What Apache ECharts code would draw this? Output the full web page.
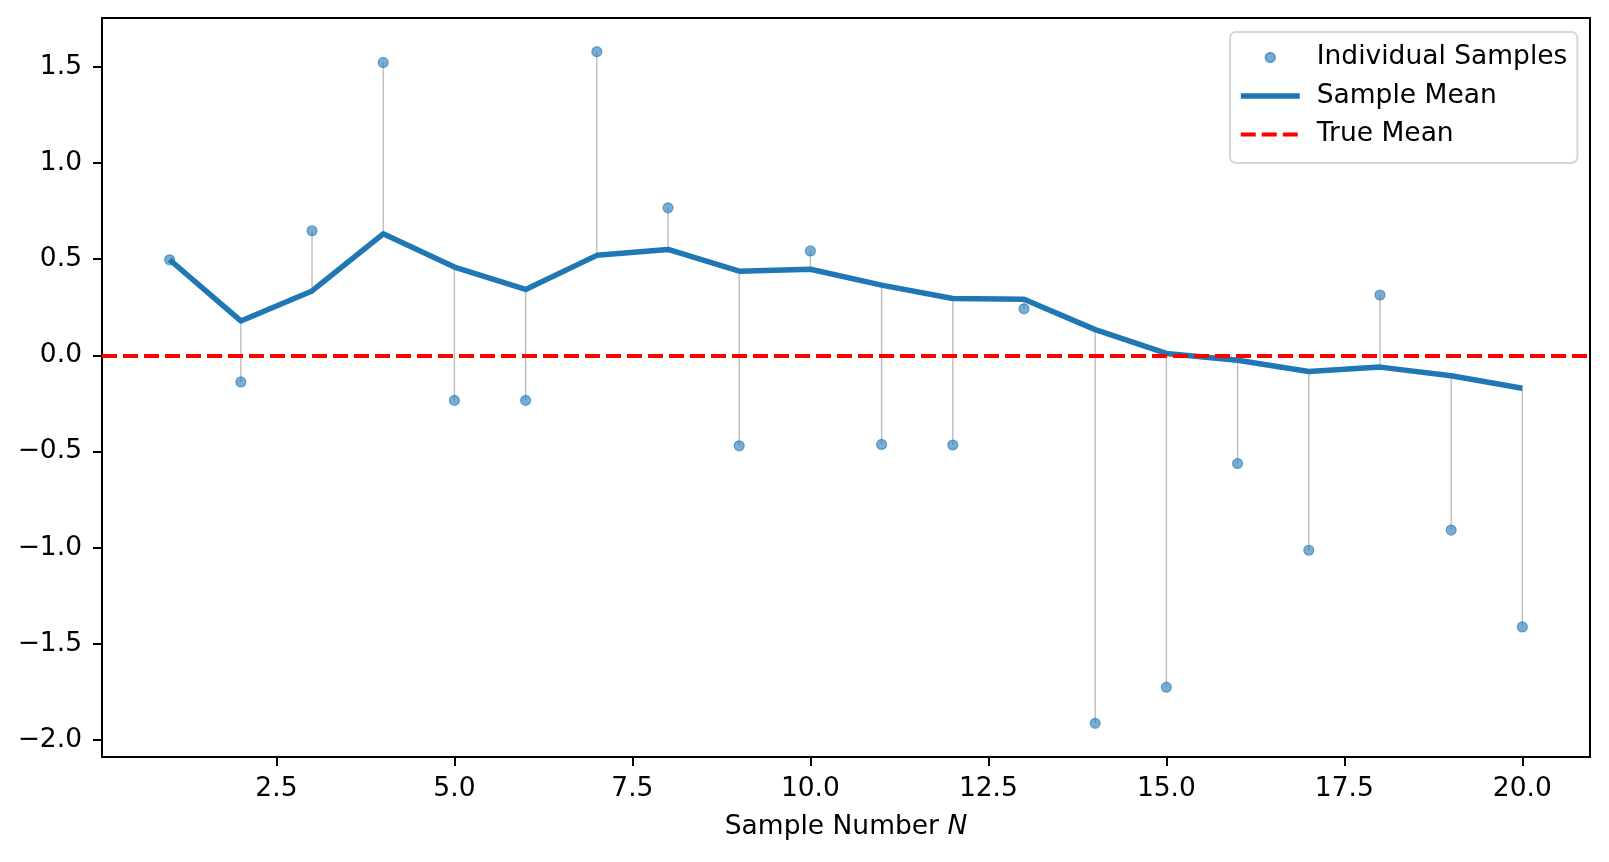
<!DOCTYPE html>
<html>
<head>
<meta charset="utf-8">
<script src="https://cdn.jsdelivr.net/npm/echarts@6/dist/echarts.min.js"></script>
<style>
html,body{margin:0;padding:0;background:#fff;}
#chart{width:1609px;height:862px;}
</style>
</head>
<body>
<div id="chart"></div>
<script>
// ---- data ----
const sampleNumbers = [1,2,3,4,5,6,7,8,9,10,11,12,13,14,15,16,17,18,19,20];
const individualSamples = [0.497, -0.138, 0.648, 1.523, -0.234, -0.234, 1.579, 0.767, -0.470, 0.543,
  -0.463, -0.466, 0.242, -1.913, -1.725, -0.562, -1.013, 0.314, -0.908, -1.412];
const sampleMean = [0.497, 0.179, 0.335, 0.632, 0.459, 0.343, 0.520, 0.551, 0.438, 0.448,
  0.365, 0.296, 0.292, 0.134, 0.010, -0.025, -0.084, -0.061, -0.106, -0.171];
const trueMean = 0;
const xTicks = [2.5, 5.0, 7.5, 10.0, 12.5, 15.0, 17.5, 20.0];
const yTicks = [-2.0, -1.5, -1.0, -0.5, 0.0, 0.5, 1.0, 1.5];
const xRange = [0.05, 20.95];
const yRange = [-2.088, 1.754];

const FONT = 'DejaVu Sans';
const FS = 26.5;
const fmt = v => (v < 0 ? '\u2212' : '') + Math.abs(v).toFixed(1);

const scatterData = sampleNumbers.map((x, i) => [x, individualSamples[i]]);
const meanData = sampleNumbers.map((x, i) => [x, sampleMean[i]]);
const stemData = sampleNumbers.map((x, i) => [x, individualSamples[i], sampleMean[i]]);

const chart = echarts.init(document.getElementById('chart'), null, {renderer: 'canvas'});
chart.setOption({
  animation: false,
  backgroundColor: '#fff',
  textStyle: {fontFamily: FONT},
  grid: {left: 102, top: 18, width: 1488, height: 739, show: true, borderColor: '#000', borderWidth: 2, backgroundColor: 'transparent'},
  xAxis: {
    type: 'value', min: xRange[0], max: xRange[1],
    splitLine: {show: false},
    axisLine: {show: false, onZero: false},
    axisTick: {show: true, length: 9, lineStyle: {color: '#000', width: 2}, customValues: xTicks},
    axisLabel: {color: '#000', fontSize: FS, fontFamily: FONT, margin: 19, customValues: xTicks, formatter: fmt},
    name: 'Sample Number {i|N}',
    nameLocation: 'middle', nameGap: 57,
    nameTextStyle: {color: '#000', fontSize: FS, fontFamily: FONT,
      rich: {i: {fontStyle: 'italic', fontSize: FS, fontFamily: FONT, color: '#000'}}}
  },
  yAxis: {
    type: 'value', min: yRange[0], max: yRange[1],
    splitLine: {show: false},
    axisLine: {show: false, onZero: false},
    axisTick: {show: true, length: 9, lineStyle: {color: '#000', width: 2}, customValues: yTicks},
    axisLabel: {color: '#000', fontSize: FS, fontFamily: FONT, margin: 20, customValues: yTicks, formatter: fmt}
  },
  legend: {
    orient: 'vertical', left: 1230, top: 32,
    padding: [12, 10, 15, 8],
    itemGap: 11.5, itemWidth: 59, itemHeight: 9.5,
    backgroundColor: '#fff', borderColor: '#d6d6d6', borderWidth: 2, borderRadius: 6,
    textStyle: {color: '#000', fontSize: FS, fontFamily: FONT, padding: [0, 0, 0, 12]},
    data: [
      {name: 'Individual Samples', icon: 'circle'},
      {name: 'Sample Mean', lineStyle: {width: 5.5, color: '#1f77b4'}, itemStyle: {opacity: 0}},
      {name: 'True Mean', lineStyle: {width: 4, color: '#ff0000', type: [15, 6]}, itemStyle: {opacity: 0}}
    ]
  },
  series: [
    {
      type: 'custom', name: 'stems', z: 1, silent: true,
      data: stemData,
      encode: {x: 0, y: [1, 2]},
      renderItem: function (params, api) {
        const p1 = api.coord([api.value(0), api.value(1)]);
        const p2 = api.coord([api.value(0), api.value(2)]);
        return {type: 'line', shape: {x1: p1[0], y1: p1[1], x2: p2[0], y2: p2[1]},
          style: {stroke: 'rgba(128,128,128,0.55)', lineWidth: 1.3}};
      }
    },
    {
      type: 'scatter', name: 'Individual Samples', z: 2,
      data: scatterData, symbolSize: 10,
      itemStyle: {color: 'rgba(31,119,180,0.6)', borderColor: 'rgba(31,119,180,0.6)', borderWidth: 1.2, opacity: 1}
    },
    {
      type: 'line', name: 'Sample Mean', z: 3,
      data: meanData, symbol: 'none', showSymbol: false,
      lineStyle: {color: '#1f77b4', width: 5.5, cap: 'butt', join: 'round'},
      itemStyle: {color: '#1f77b4'}
    },
    {
      type: 'line', name: 'True Mean', z: 4,
      data: [], symbol: 'none',
      lineStyle: {color: '#ff0000', width: 4, type: [15, 6]},
      itemStyle: {color: '#ff0000'},
      markLine: {
        silent: true, symbol: ['none', 'none'], label: {show: false},
        lineStyle: {color: '#ff0000', width: 4, type: [15, 6]},
        emphasis: {disabled: true},
        data: [{yAxis: trueMean}]
      }
    }
  ]
});
</script>
</body>
</html>
